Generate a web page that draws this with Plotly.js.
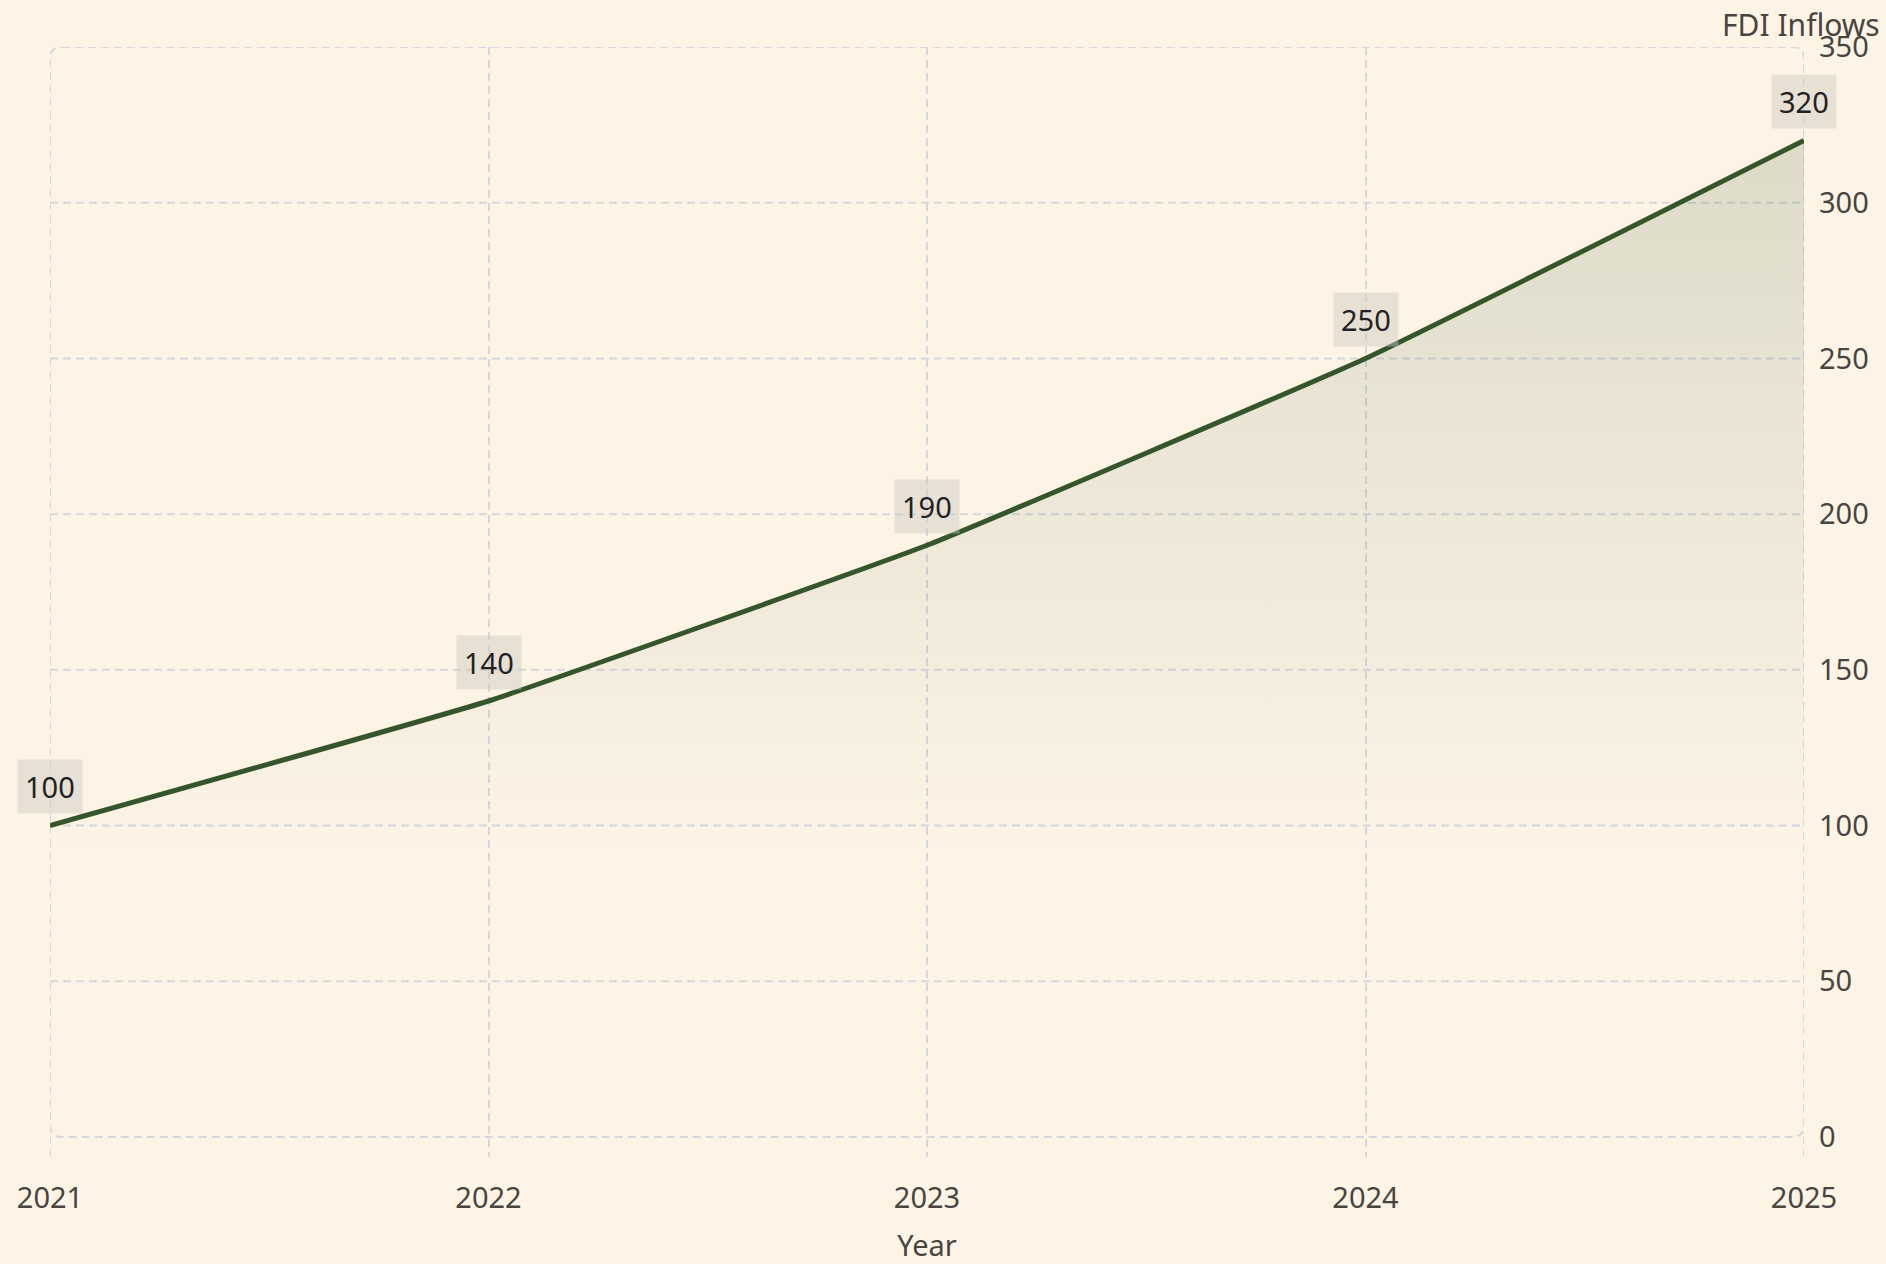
<!DOCTYPE html>
<html>
<head>
<meta charset="utf-8">
<script src="https://cdn.plot.ly/plotly-3.0.1.min.js"></script>
<style>
html,body{margin:0;padding:0;background:#fdf4e6;}
#chart{width:1886px;height:1264px;}
</style>
</head>
<body>
<div id="chart"></div>
<script>
const years = [2021, 2022, 2023, 2024, 2025];
const fdiInflows = [100, 140, 190, 250, 320];
const yTicks = [0, 50, 100, 150, 200, 250, 300, 350];
const xTitle = "Year";
const yTitle = "FDI Inflows";

const lineColor = "#35552c";
const gridColor = "#d6d7dc";
const textColor = "#4a4440";
const fontFamily = "'Noto Sans', 'Open Sans', sans-serif";
const fs = 29;
const yMin = -6.42;
const gridDash = "8px,5px";
const gridW = 2;

const trace = {
  x: years,
  y: fdiInflows,
  type: "scatter",
  mode: "lines",
  line: {color: lineColor, width: 5, shape: "spline", smoothing: 0.3},
  fill: "tozeroy",
  fillgradient: {
    type: "vertical",
    start: 90,
    stop: 320,
    colorscale: [[0, "rgba(53,85,44,0)"], [1, "rgba(53,85,44,0.16)"]]
  },
  hoverinfo: "x+y",
  showlegend: false
};

const annotations = years.map((yr, i) => ({
  x: yr, y: fdiInflows[i], xref: "x", yref: "y",
  text: String(fdiInflows[i]),
  showarrow: false,
  yshift: 39,
  bgcolor: "rgba(205,200,190,0.45)",
  borderpad: 7,
  font: {family: fontFamily, size: fs, color: "#222222"}
}));

annotations.push({
  xref: "paper", yref: "paper",
  x: 1.0445, y: 1.0, xanchor: "right", yanchor: "bottom", yshift: 0,
  text: yTitle, showarrow: false,
  font: {family: fontFamily, size: 30, color: textColor}
});

// frame with rounded corners + inner horizontal grid lines
const x0 = years[0], x1 = years[years.length - 1];
const y0 = yTicks[0], y1 = yTicks[yTicks.length - 1];
const rx = 0.0274, ry = 3.85;
const framePath =
  `M ${x0 + rx},${y1} L ${x1 - rx},${y1} Q ${x1},${y1} ${x1},${y1 - ry} ` +
  `L ${x1},${y0 + ry} Q ${x1},${y0} ${x1 - rx},${y0} ` +
  `L ${x0 + rx},${y0} Q ${x0},${y0} ${x0},${y0 + ry} ` +
  `L ${x0},${y1 - ry} Q ${x0},${y1} ${x0 + rx},${y1} Z`;

const gridLine = {color: gridColor, width: gridW, dash: gridDash};
const shapes = [
  {type: "path", xref: "x", yref: "y", path: framePath, line: gridLine, layer: "below"},
  {type: "line", xref: "x", yref: "y", x0: x0, x1: x0, y0: yMin, y1: y0, line: gridLine, layer: "below"},
  {type: "line", xref: "x", yref: "y", x0: x1, x1: x1, y0: yMin, y1: y0, line: gridLine, layer: "below"}
];
yTicks.slice(1, -1).forEach(v => {
  shapes.push({type: "line", xref: "x", yref: "y", x0: x0, x1: x1, y0: v, y1: v, line: gridLine, layer: "below"});
});

const layout = {
  width: 1886, height: 1264,
  paper_bgcolor: "#fdf4e6",
  plot_bgcolor: "#fdf4e6",
  margin: {l: 50, r: 82, t: 47, b: 107},
  font: {family: fontFamily, size: fs, color: textColor},
  xaxis: {
    type: "linear",
    range: [x0, x1],
    tickvals: years,
    ticktext: years.map(String),
    showgrid: true, gridcolor: gridColor, griddash: gridDash, gridwidth: gridW,
    zeroline: false, showline: false, ticks: "",
    ticklabelstandoff: 21,
    tickfont: {family: fontFamily, size: fs, color: textColor},
    title: {text: xTitle, standoff: 22, font: {family: fontFamily, size: fs, color: textColor}}
  },
  yaxis: {
    side: "right",
    range: [yMin, y1],
    tickvals: yTicks,
    showgrid: false,
    zeroline: false, showline: false, ticks: "",
    ticklabelstandoff: 14,
    tickfont: {family: fontFamily, size: fs, color: textColor}
  },
  shapes: shapes,
  annotations: annotations
};

Plotly.newPlot("chart", [trace], layout, {displayModeBar: false, responsive: false});
</script>
</body>
</html>
